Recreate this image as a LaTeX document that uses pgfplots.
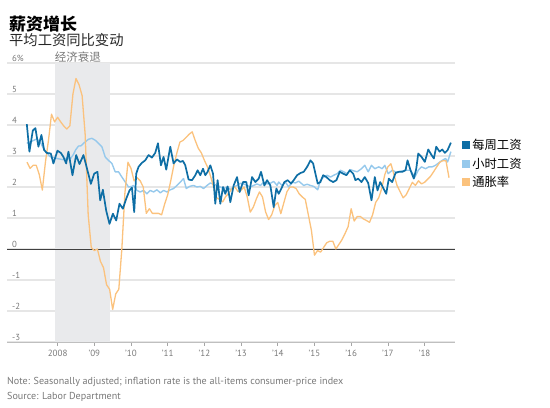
\documentclass[border=0pt]{standalone}
\usepackage{pgfplots}
\pgfplotsset{compat=1.18}
\usepackage{pgfplotstable}
\usepackage{fontspec}
\setmainfont{PT Sans}
\newfontfamily\cjk{Noto Sans CJK SC}
\definecolor{wdark}{RGB}{14,110,165}
\definecolor{wlight}{RGB}{150,201,236}
\definecolor{infl}{RGB}{251,194,125}
\definecolor{recess}{RGB}{233,234,236}
\definecolor{gridc}{RGB}{230,230,230}
\definecolor{txtgray}{RGB}{120,120,120}

% weekly earnings, year-over-year %
\pgfplotstableread{
x v
2007.160 4.03
2007.231 3.14
2007.323 3.82
2007.394 3.90
2007.476 3.30
2007.558 3.68
2007.632 3.19
2007.705 3.10
2007.814 3.08
2007.885 2.76
2007.995 3.17
2008.087 3.10
2008.158 2.97
2008.232 2.76
2008.295 3.14
2008.404 2.38
2008.505 3.03
2008.595 2.74
2008.704 3.03
2008.778 2.70
2008.906 2.10
2008.996 2.43
2009.086 2.49
2009.160 1.57
2009.233 1.91
2009.323 1.24
2009.413 0.81
2009.506 1.14
2009.596 0.92
2009.686 1.46
2009.779 1.30
2009.869 1.62
2009.959 1.89
2010.025 1.98
2010.087 1.19
2010.142 2.43
2010.205 2.65
2010.297 2.78
2010.387 2.86
2010.478 3.03
2010.570 2.95
2010.660 3.10
2010.734 3.41
2010.816 2.70
2010.887 2.97
2010.960 2.56
2011.070 3.30
2011.160 2.76
2011.252 2.89
2011.342 2.81
2011.416 2.84
2011.479 2.70
2011.569 2.24
2011.662 2.22
2011.752 2.38
2011.815 2.54
2011.888 2.38
2011.962 2.59
2012.025 2.38
2012.087 2.49
2012.161 2.70
2012.235 2.43
2012.297 1.46
2012.360 2.22
2012.434 1.46
2012.508 2.00
2012.570 1.78
2012.633 2.02
2012.707 1.51
2012.797 2.05
2012.890 2.32
2012.960 1.84
2013.053 2.16
2013.143 2.16
2013.206 1.73
2013.299 2.32
2013.389 2.16
2013.479 2.27
2013.544 2.49
2013.634 2.05
2013.708 2.22
2013.798 2.05
2013.888 1.35
2013.962 1.95
2014.025 1.78
2014.117 2.00
2014.180 2.16
2014.270 2.22
2014.363 2.11
2014.434 2.22
2014.527 2.38
2014.617 2.45
2014.707 2.49
2014.800 2.65
2014.890 2.86
2014.963 2.76
2015.026 2.43
2015.089 2.11
2015.162 2.16
2015.236 2.38
2015.326 2.32
2015.416 2.22
2015.509 2.16
2015.599 2.22
2015.689 2.49
2015.782 2.43
2015.872 2.38
2015.962 2.54
2016.055 2.43
2016.117 2.22
2016.191 2.27
2016.281 2.16
2016.371 2.32
2016.464 2.13
2016.554 1.57
2016.644 2.32
2016.718 1.89
2016.791 2.16
2016.862 2.00
2016.955 1.78
2017.026 2.27
2017.119 2.16
2017.209 2.45
2017.299 2.49
2017.392 2.49
2017.482 2.54
2017.536 2.86
2017.618 2.54
2017.708 2.27
2017.774 2.59
2017.828 3.08
2017.918 2.97
2018.008 2.81
2018.101 3.21
2018.191 3.03
2018.254 2.92
2018.319 3.30
2018.409 3.14
2018.483 3.21
2018.554 3.10
2018.628 3.19
2018.718 3.43
}\weekly

% hourly earnings, year-over-year %
\pgfplotstableread{
x v
2007.160 3.41
2007.250 3.45
2007.340 3.50
2007.432 3.55
2007.523 3.45
2007.613 3.25
2007.705 3.10
2007.795 2.98
2007.885 2.95
2007.978 2.92
2008.068 2.90
2008.158 2.88
2008.251 2.93
2008.341 2.90
2008.431 3.05
2008.491 3.20
2008.568 3.32
2008.641 3.33
2008.704 3.41
2008.778 3.48
2008.840 3.54
2008.933 3.57
2009.023 3.51
2009.113 3.41
2009.206 3.30
2009.296 2.97
2009.386 2.86
2009.479 2.76
2009.569 2.49
2009.659 2.49
2009.752 2.32
2009.842 2.16
2009.932 2.00
2010.025 2.02
2010.068 2.05
2010.161 1.89
2010.251 1.84
2010.341 1.89
2010.434 1.78
2010.524 1.89
2010.614 1.84
2010.707 1.91
2010.797 1.81
2010.887 1.89
2010.980 1.84
2011.070 1.91
2011.160 1.95
2011.252 2.05
2011.342 2.16
2011.432 2.27
2011.506 1.95
2011.596 2.02
2011.705 2.05
2011.798 2.00
2011.888 2.02
2011.978 1.95
2012.071 2.05
2012.161 2.13
2012.251 2.09
2012.344 2.05
2012.434 2.00
2012.524 1.95
2012.617 2.00
2012.707 1.92
2012.797 2.00
2012.890 2.05
2012.980 2.12
2013.070 2.10
2013.162 2.05
2013.252 2.00
2013.342 2.05
2013.435 2.10
2013.525 2.05
2013.615 2.15
2013.708 2.10
2013.798 2.12
2013.888 2.18
2013.981 2.05
2014.025 2.16
2014.117 2.05
2014.207 2.16
2014.298 2.00
2014.390 2.16
2014.480 2.13
2014.570 2.19
2014.707 2.05
2014.800 2.09
2014.890 2.05
2014.980 2.02
2015.089 1.91
2015.162 2.22
2015.252 2.32
2015.345 2.38
2015.435 2.32
2015.525 2.38
2015.617 2.43
2015.707 2.54
2015.797 2.49
2015.890 2.43
2015.980 2.56
2016.071 2.52
2016.164 2.49
2016.281 2.59
2016.371 2.70
2016.464 2.49
2016.554 2.70
2016.644 2.59
2016.753 2.65
2016.846 2.59
2016.916 2.70
2017.009 2.43
2017.119 2.54
2017.209 2.49
2017.299 2.49
2017.482 2.54
2017.618 2.54
2017.735 2.32
2017.828 2.54
2017.918 2.65
2018.027 2.59
2018.117 2.65
2018.210 2.65
2018.300 2.70
2018.390 2.78
2018.483 2.86
2018.573 2.92
2018.628 2.81
2018.718 3.14
}\hourly

% inflation (CPI), year-over-year %
\pgfplotstableread{
x v
2007.167 2.80
2007.250 2.60
2007.333 2.70
2007.417 2.70
2007.500 2.40
2007.583 1.90
2007.667 2.80
2007.750 3.50
2007.833 4.35
2007.917 4.10
2008.000 4.25
2008.083 4.10
2008.167 3.97
2008.250 3.87
2008.333 3.97
2008.417 5.00
2008.500 5.50
2008.583 5.30
2008.667 4.95
2008.750 3.70
2008.833 1.10
2008.917 0.05
2009.000 -0.05
2009.083 0.00
2009.167 -0.40
2009.250 -0.60
2009.333 -1.15
2009.417 -1.30
2009.500 -1.95
2009.583 -1.45
2009.667 -1.30
2009.750 0.00
2009.833 1.80
2009.917 2.80
2010.000 2.60
2010.083 2.20
2010.167 2.30
2010.250 2.20
2010.333 2.00
2010.417 1.15
2010.500 1.30
2010.583 1.15
2010.667 1.15
2010.750 1.15
2010.833 1.10
2010.917 1.45
2011.000 1.75
2011.083 2.20
2011.167 2.70
2011.250 3.10
2011.333 3.45
2011.417 3.50
2011.500 3.60
2011.583 3.70
2011.667 3.78
2011.750 3.50
2011.833 3.25
2011.917 3.10
2012.000 2.86
2012.083 2.65
2012.167 2.35
2012.250 2.00
2012.333 1.65
2012.417 1.60
2012.500 1.52
2012.583 1.70
2012.667 1.80
2012.750 1.95
2012.833 2.00
2012.917 1.85
2013.000 1.90
2013.083 2.00
2013.167 1.68
2013.250 1.19
2013.333 1.35
2013.417 1.62
2013.500 1.84
2013.583 1.68
2013.667 1.20
2013.750 0.95
2013.833 1.10
2013.917 1.40
2014.000 1.50
2014.083 1.14
2014.167 1.50
2014.250 1.85
2014.333 2.00
2014.417 2.00
2014.500 1.95
2014.583 1.78
2014.667 1.68
2014.750 1.60
2014.833 1.10
2014.917 0.60
2015.000 -0.20
2015.083 -0.05
2015.167 -0.10
2015.250 0.05
2015.333 0.20
2015.417 0.25
2015.500 0.25
2015.583 0.00
2015.667 0.15
2015.750 0.30
2015.833 0.50
2015.917 0.72
2016.000 1.30
2016.083 0.90
2016.167 1.05
2016.250 1.05
2016.333 0.97
2016.417 0.92
2016.500 0.86
2016.583 1.10
2016.667 1.50
2016.750 1.65
2016.833 1.95
2016.917 2.40
2017.000 2.65
2017.083 2.75
2017.167 2.40
2017.250 2.05
2017.333 1.85
2017.417 1.65
2017.500 1.75
2017.583 1.95
2017.667 2.15
2017.750 2.05
2017.833 2.20
2017.917 2.10
2018.000 2.15
2018.083 2.25
2018.167 2.35
2018.250 2.50
2018.333 2.65
2018.417 2.80
2018.500 2.85
2018.583 2.85
2018.667 2.30
}\inflation

\begin{document}
\begin{tikzpicture}
\path[use as bounding box] (0bp,0bp) rectangle (550bp,408bp);
% titles
\node[anchor=west, inner sep=0pt, font=\cjk\bfseries\fontsize{17bp}{19bp}\selectfont] at (9bp,384bp) {薪资增长};
\node[anchor=west, inner sep=0pt, font=\cjk\fontsize{14.3bp}{16bp}\selectfont, text=black!85] at (9bp,368bp) {平均工资同比变动};
% notes
\node[anchor=west, inner sep=0pt, font=\fontsize{10.1bp}{12bp}\selectfont, text=txtgray] at (7bp,26bp) {Note: Seasonally adjusted; inflation rate is the all-items consumer-price index};
\node[anchor=west, inner sep=0pt, font=\fontsize{10.1bp}{12bp}\selectfont, text=txtgray] at (7bp,11bp) {Source: Labor Department};

\begin{axis}[
  at={(7bp,66bp)}, anchor=south west,
  width=448bp, height=279bp, scale only axis,
  xmin=2006.62, xmax=2018.83,
  ymin=-3, ymax=6,
  axis x line*=bottom, axis y line*=left,
  separate axis lines,
  y axis line style={draw=none},
  x axis line style={draw=black!25, line width=0.8bp},
  ytick={-3,-2,-1,0,1,2,3,4,5,6},
  yticklabels={-3,-2,-1,0,1,2,3,4,5,6\%},
  ymajorgrids, grid style={draw=gridc, line width=1.1bp},
  ytick style={draw=none},
  yticklabel style={anchor=south west, xshift=4bp, yshift=0.5bp, inner sep=1bp, font=\fontsize{8.8bp}{10bp}\selectfont, text=txtgray},
  xtick={2008,2009,2010,2011,2012,2013,2014,2015,2016,2017,2018},
  xticklabels={2008,'09,'10,'11,'12,'13,'14,'15,'16,'17,'18},
  xtick align=outside, major tick length=4bp,
  xtick style={draw=black!35, line width=0.6bp},
  xticklabel style={font=\fontsize{9bp}{10bp}\selectfont, text=txtgray, yshift=-1bp},
  clip=false,
  legend style={at={(1.016,0.735)}, anchor=north west, draw=none, fill=none,
    font=\cjk\fontsize{12.3bp}{14bp}\selectfont, row sep=2.8bp, inner sep=0pt},
  legend cell align=left,
  legend image code/.code={\fill[#1, draw=none] (0bp,-4bp) rectangle (8bp,4bp);},
]
\addlegendimage{color=wdark}
\addlegendentry{每周工资}
\addlegendimage{color=wlight}
\addlegendentry{小时工资}
\addlegendimage{color=infl}
\addlegendentry{通胀率}
% recession
\addplot[fill=recess, draw=none, forget plot] coordinates {(2007.917,-3) (2007.917,6) (2009.417,6) (2009.417,-3)} -- cycle;
% zero line
\addplot[draw=black!75, line width=1bp, forget plot] coordinates {(2006.62,0) (2018.83,0)};
\addplot[draw=wlight, line width=1.4bp, line join=round, forget plot] table[x=x,y=v] {\hourly};
\addplot[draw=infl, line width=1.3bp, line join=round, forget plot] table[x=x,y=v] {\inflation};
\addplot[draw=wdark, line width=1.7bp, line join=round, forget plot] table[x=x,y=v] {\weekly};
\node[anchor=south west, inner sep=0pt, font=\cjk\fontsize{11.5bp}{13bp}\selectfont, text=txtgray] at (axis cs:2007.917,6.02) {经济衰退};
\end{axis}
\end{tikzpicture}
\end{document}
